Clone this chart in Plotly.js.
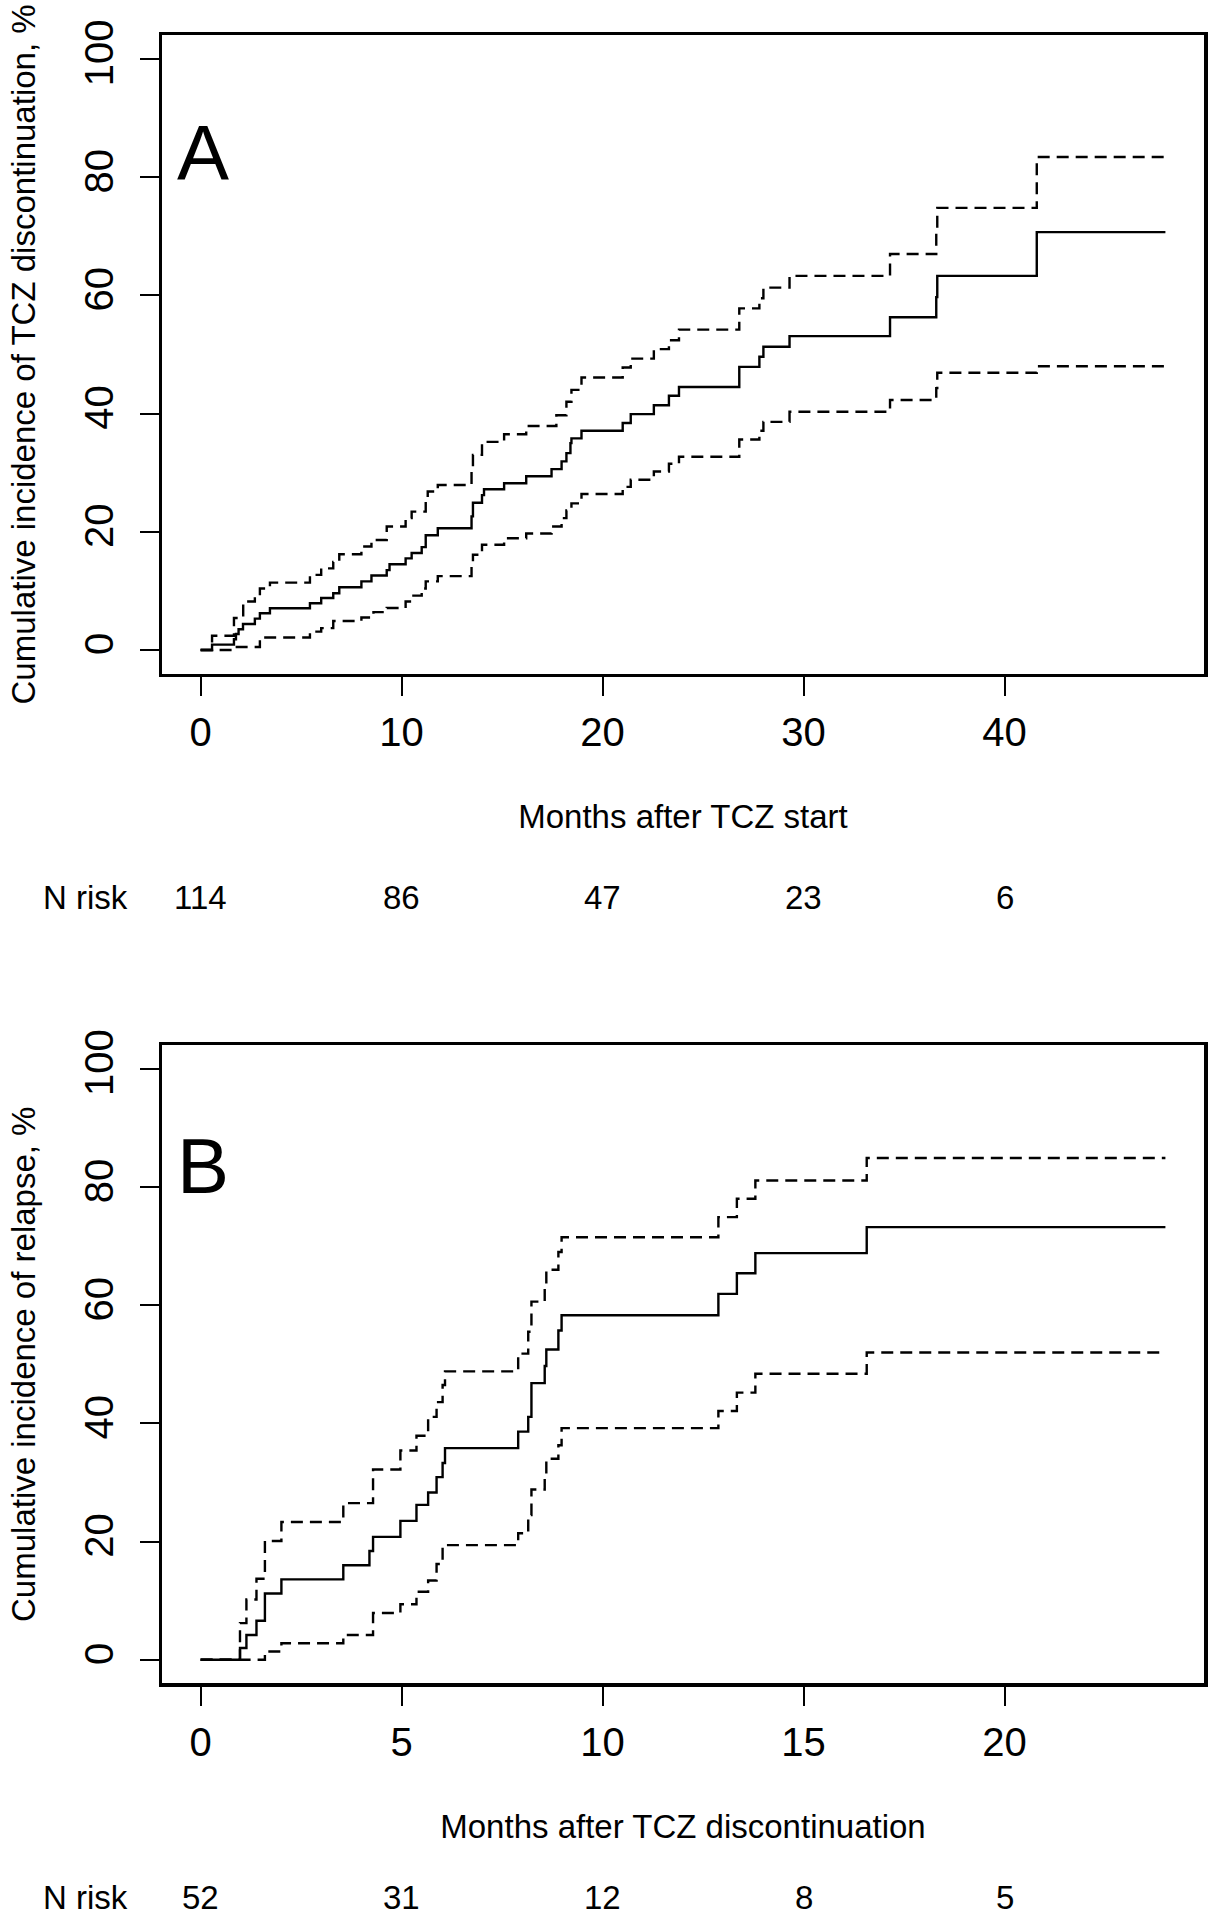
<!DOCTYPE html>
<html>
<head>
<meta charset="utf-8">
<script src="https://cdn.plot.ly/plotly-3.0.1.min.js"></script>
<style>
  html, body { margin: 0; padding: 0; background: #ffffff; }
  #chart { width: 1213px; height: 1920px; }
</style>
</head>
<body>
<div id="chart"></div>
<script>
// ---------- Panel A: cumulative incidence of TCZ discontinuation ----------
const aEstTime  = [0, 0.57, 1.66, 1.76, 1.89, 2.11, 2.7, 2.95, 3.45, 5.44, 6.0, 6.6, 6.9, 8.0, 8.5, 9.26, 9.4, 10.2, 10.5, 11.0, 11.2, 11.8, 13.48, 13.55, 14.0, 14.1, 15.1, 16.2, 17.46, 17.96, 18.2, 18.4, 18.45, 18.95, 21.0, 21.4, 22.55, 23.3, 23.8, 26.8, 27.8, 28.0, 29.3, 34.3, 36.6, 36.65, 41.6, 48];
const aEst      = [0, 0.9, 1.8, 2.7, 3.5, 4.4, 5.3, 6.2, 7.05, 7.9, 8.8, 9.6, 10.6, 11.6, 12.6, 13.5, 14.5, 15.5, 16.4, 17.4, 19.4, 20.6, 22.6, 24.9, 26.2, 27.2, 28.2, 29.4, 30.6, 31.9, 33.3, 35.0, 35.8, 37.1, 38.4, 39.9, 41.4, 43.0, 44.5, 47.9, 49.6, 51.3, 53.1, 56.3, 59.7, 63.3, 70.7, 70.7];

const aUpTime   = [0, 0.57, 1.66, 2.12, 2.7, 2.95, 3.45, 5.44, 6.0, 6.6, 6.9, 8.0, 8.5, 9.26, 10.2, 10.5, 11.2, 11.3, 11.8, 13.48, 13.55, 14.0, 15.1, 16.2, 17.7, 18.2, 18.45, 18.95, 21.0, 21.4, 22.55, 23.3, 23.8, 26.8, 27.8, 28.0, 29.3, 34.3, 36.6, 36.65, 41.6, 48];
const aUp       = [0, 2.4, 5.4, 8.2, 9.0, 10.4, 11.4, 12.7, 13.8, 14.9, 16.2, 17.5, 18.6, 20.9, 22.3, 23.4, 25.6, 26.8, 27.9, 31.0, 33.0, 35.2, 36.5, 37.9, 39.7, 42.0, 44.0, 46.1, 47.8, 49.3, 50.9, 52.4, 54.2, 57.8, 59.5, 61.3, 63.3, 67.0, 70.5, 74.8, 83.4, 83.4];

const aLoTime   = [0, 1.7, 2.95, 5.44, 6.0, 6.6, 8.0, 8.6, 9.26, 10.2, 10.5, 11.0, 11.2, 11.8, 13.48, 13.55, 14.0, 15.1, 16.2, 17.46, 17.96, 18.2, 18.45, 18.95, 21.0, 21.4, 22.55, 23.3, 23.8, 26.8, 27.8, 28.0, 29.3, 34.3, 36.6, 36.65, 41.6, 48];
const aLo       = [0, 0.5, 2.1, 3.1, 3.7, 4.9, 5.5, 6.4, 7.1, 8.2, 9.2, 10.4, 11.6, 12.5, 14.5, 16.1, 17.8, 18.9, 19.7, 20.9, 22.3, 23.6, 24.8, 26.4, 27.6, 28.8, 30.2, 31.5, 32.7, 35.6, 37.1, 38.6, 40.3, 42.3, 44.3, 46.9, 48.0, 48.0];

const aTicks    = [0, 10, 20, 30, 40];
const aRisk     = ['114', '86', '47', '23', '6'];

// ---------- Panel B: cumulative incidence of relapse ----------
const bEstTime  = [0, 0.98, 1.14, 1.39, 1.6, 2.01, 3.55, 4.2, 4.29, 4.97, 5.37, 5.66, 5.87, 6.02, 6.08, 7.9, 8.15, 8.23, 8.56, 8.6, 8.9, 8.98, 12.88, 13.34, 13.8, 16.57, 24];
const bEst      = [0, 2.0, 4.2, 6.6, 11.2, 13.6, 16.0, 18.4, 20.8, 23.5, 26.2, 28.3, 30.9, 33.3, 35.8, 38.6, 41.1, 46.8, 49.7, 52.5, 55.7, 58.3, 61.9, 65.4, 68.8, 73.2, 73.2];

const bUpTime   = [0, 0.98, 1.14, 1.39, 1.6, 2.01, 3.55, 4.29, 4.97, 5.37, 5.66, 5.87, 6.02, 6.08, 7.9, 8.15, 8.23, 8.56, 8.6, 8.9, 8.98, 12.88, 13.34, 13.8, 16.57, 24];
const bUp       = [0, 6.2, 10.2, 13.7, 20.1, 23.3, 26.5, 32.2, 35.4, 37.9, 41.1, 43.6, 46.5, 48.8, 51.8, 55.5, 60.6, 63.5, 66.0, 69.0, 71.5, 74.9, 78.0, 81.1, 84.9, 84.9];

const bLoTime   = [0, 1.6, 2.01, 3.55, 4.29, 4.97, 5.37, 5.66, 5.87, 6.02, 7.9, 8.15, 8.23, 8.56, 8.6, 8.9, 8.98, 12.88, 13.34, 13.8, 16.57, 24];
const bLo       = [0, 1.4, 2.8, 4.2, 7.9, 9.4, 11.5, 13.4, 16.2, 19.4, 21.4, 24.5, 28.8, 31.5, 34.0, 36.3, 39.2, 42.1, 45.2, 48.4, 52.0, 52.0];

const bTicks    = [0, 5, 10, 15, 20];
const bRisk     = ['52', '31', '12', '8', '5'];

const yTicks    = [0, 20, 40, 60, 80, 100];

// ---------- styling ----------
const FONT = 'Liberation Sans, Arial, Helvetica, sans-serif';
const solid = {color: '#000000', width: 2.4, shape: 'hv'};
const dashed = {color: '#000000', width: 2.4, shape: 'hv', dash: '12px,7px'};

function tr(x, y, line, xa, ya) {
  return {x: x, y: y, type: 'scatter', mode: 'lines', line: line,
          xaxis: xa, yaxis: ya, hoverinfo: 'skip', showlegend: false};
}

const traces = [
  tr(aEstTime, aEst, solid, 'x', 'y'),
  tr(aUpTime, aUp, dashed, 'x', 'y'),
  tr(aLoTime, aLo, dashed, 'x', 'y'),
  tr(bEstTime, bEst, solid, 'x2', 'y2'),
  tr(bUpTime, bUp, dashed, 'x2', 'y2'),
  tr(bLoTime, bLo, dashed, 'x2', 'y2')
];

const H = 1920;
const domA = [(H - 673.6) / H, (H - 35.3) / H];
const domB = [(H - 1683.4) / H, (H - 1045.1) / H];

function xAxis(ticks, range, title, anchor) {
  return {
    range: range, tickmode: 'array', tickvals: ticks, ticktext: ticks.map(String),
    showline: true, mirror: true, linewidth: 3.5, linecolor: '#000000',
    ticks: 'outside', ticklen: 19, tickwidth: 2, tickcolor: '#000000',
    showgrid: false, zeroline: false, anchor: anchor,
    tickfont: {family: FONT, size: 40, color: '#000000'},
    ticklabelstandoff: 2,
    title: {text: title, font: {family: FONT, size: 33, color: '#000000'}, standoff: 53}
  };
}
function yAxis(dom, title, anchor) {
  return {
    domain: dom, range: [-4, 104], tickmode: 'array', tickvals: yTicks, ticktext: yTicks.map(String),
    showline: true, mirror: true, linewidth: 3.5, linecolor: '#000000',
    ticks: 'outside', ticklen: 19, tickwidth: 2, tickcolor: '#000000',
    showgrid: false, zeroline: false, anchor: anchor, tickangle: -90,
    tickfont: {family: FONT, size: 40, color: '#000000'},
    ticklabelstandoff: 11,
    title: {text: title, font: {family: FONT, size: 33, color: '#000000'}, standoff: 32}
  };
}

function yPaper(px) { return (H - px) / H; }

const annotations = [];
function riskRow(ticks, labels, xa, ypx) {
  annotations.push({xref: 'paper', yref: 'paper', x: (85.5 - 162) / 1042, y: yPaper(ypx),
    text: 'N risk', showarrow: false, xanchor: 'center', yanchor: 'middle',
    font: {family: FONT, size: 33, color: '#000000'}});
  ticks.forEach(function (t, i) {
    annotations.push({xref: xa, yref: 'paper', x: t, y: yPaper(ypx), text: labels[i],
      showarrow: false, xanchor: 'center', yanchor: 'middle',
      font: {family: FONT, size: 33, color: '#000000'}});
  });
}
riskRow(aTicks, aRisk, 'x', 897);
riskRow(bTicks, bRisk, 'x2', 1897);

annotations.push({xref: 'x', yref: 'y', x: 0.1, y: 84, text: 'A', showarrow: false,
  xanchor: 'center', yanchor: 'middle', font: {family: FONT, size: 78, color: '#000000'}});
annotations.push({xref: 'x2', yref: 'y2', x: 0.05, y: 83.5, text: 'B', showarrow: false,
  xanchor: 'center', yanchor: 'middle', font: {family: FONT, size: 78, color: '#000000'}});

const layout = {
  width: 1213, height: 1920,
  margin: {l: 162, r: 9, t: 0, b: 0, pad: 0},
  paper_bgcolor: '#ffffff', plot_bgcolor: '#ffffff',
  showlegend: false,
  font: {family: FONT, color: '#000000'},
  xaxis: xAxis(aTicks, [-1.92, 49.92], 'Months after TCZ start', 'y'),
  yaxis: yAxis(domA, 'Cumulative incidence of TCZ discontinuation, %', 'x'),
  xaxis2: xAxis(bTicks, [-0.96, 24.96], 'Months after TCZ discontinuation', 'y2'),
  yaxis2: yAxis(domB, 'Cumulative incidence of relapse, %', 'x2'),
  annotations: annotations
};

Plotly.newPlot('chart', traces, layout, {displayModeBar: false, staticPlot: true});
</script>
</body>
</html>
